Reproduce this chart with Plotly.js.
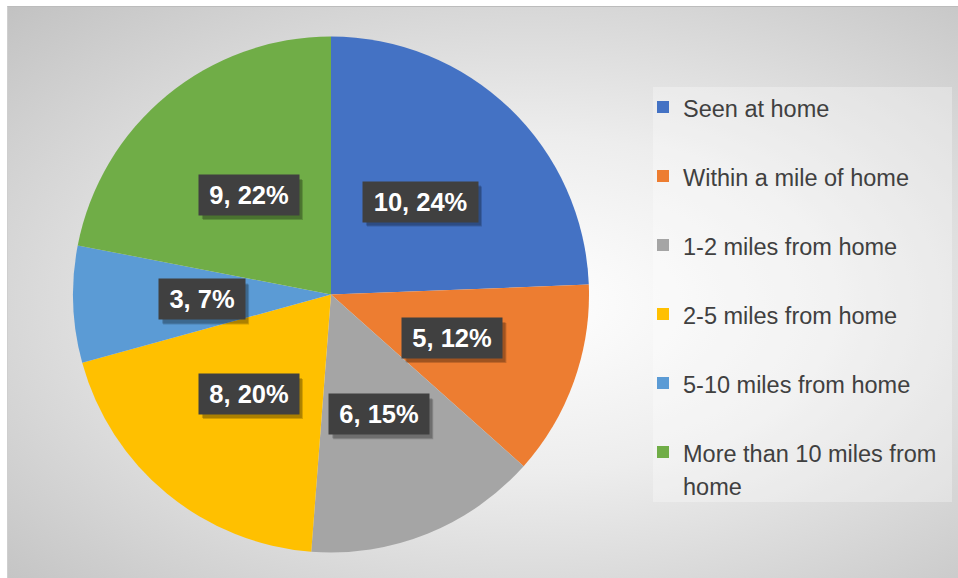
<!DOCTYPE html>
<html><head><meta charset="utf-8">
<script src="https://cdn.plot.ly/plotly-3.0.1.min.js"></script>
<style>
html,body{margin:0;padding:0;background:#fff;width:958px;height:578px;overflow:hidden}
#bg{position:absolute;left:7px;top:6px;width:951px;height:572px;border-top:1px solid #bcbcbc;border-left:1px solid #cfcfcf;
background:radial-gradient(farthest-corner at 55% 52%, #ffffff 0%, #ededed 40%, #c2c2c2 100%)}
#chart{position:absolute;left:0;top:0;width:958px;height:578px}
</style></head><body>
<div id="bg"></div><div id="chart"></div>
<script>
const categories = ["Seen at home", "Within a mile of home", "1-2 miles from home", "2-5 miles from home", "5-10 miles from home", "More than 10 miles from home"];
const counts = [10, 5, 6, 8, 3, 9];
const sliceColors = ["#4472C4", "#ED7D31", "#A5A5A5", "#FFC000", "#5B9BD5", "#70AD47"];

const W = 958, H = 578;
const domX = [73 / W, 589 / W];
const domY = [1 - 552.5 / H, 1 - 36.5 / H];
const FONT = "Arial, 'Liberation Sans', sans-serif";
const LABEL_SIZE = 25.5;

const total = counts.reduce((a, b) => a + b, 0);

// legend labels (wrapped, with spacing line)
function legendLabel(txt, i) {
  let lines = [txt];
  if (txt.length > 24) {
    const k = txt.lastIndexOf(' ');
    lines = [txt.slice(0, k), txt.slice(k + 1)];
  }
  let s = lines.map(l => '<span style="font-size:23.5px">' + l + '</span>').join('<br>');
  if (i < categories.length - 1) s += '<br> ';
  return s;
}
const legendLabels = categories.map(legendLabel);

// text measuring for label box widths
const ctx = document.createElement('canvas').getContext('2d');
ctx.font = 'bold ' + LABEL_SIZE + "px Arial, 'Liberation Sans', sans-serif";

// data label positions from pie geometry
const cx = (domX[0] + domX[1]) / 2 * W;
const cy = (1 - (domY[0] + domY[1]) / 2) * H;
const R = Math.min((domX[1] - domX[0]) * W, (domY[1] - domY[0]) * H) / 2;
const annotations = [];
const shapes = [{
  type: 'rect', xref: 'paper', yref: 'paper', layer: 'below',
  x0: 653 / W, x1: 952 / W, y0: 1 - 502 / H, y1: 1 - 87 / H,
  fillcolor: 'rgba(255,255,255,0.3)', line: {width: 0}
}];
let cum = 0;
counts.forEach((v, i) => {
  const mid = (cum + v / 2) / total * 2 * Math.PI;
  cum += v;
  const px = cx + 0.5 * R * Math.sin(mid);
  const py = cy - 0.5 * R * Math.cos(mid);
  const txt = v + ', ' + Math.round(v / total * 100) + '%';
  const bw = Math.round(ctx.measureText(txt).width + 17);
  const boxW = bw + 4, boxH = 40;
  // soft shadow
  [[4, 5, 0.18], [3, 4, 0.18]].forEach(([dx, dy, a]) => {
    shapes.push({
      type: 'rect', xref: 'paper', yref: 'paper', layer: 'above',
      x0: (px - boxW / 2 + dx) / W, x1: (px + boxW / 2 + dx) / W,
      y0: 1 - (py + boxH / 2 + dy) / H, y1: 1 - (py - boxH / 2 + dy) / H,
      fillcolor: 'rgba(0,0,0,' + a + ')', line: {width: 0}
    });
  });
  annotations.push({
    xref: 'paper', yref: 'paper', x: px / W, y: 1 - py / H,
    showarrow: false, text: txt, borderpad: 2, height: 36, width: bw,
    xanchor: 'center', yanchor: 'middle', align: 'center',
    font: {family: FONT, size: LABEL_SIZE, color: '#ffffff', weight: 'bold'},
    bgcolor: '#404040'
  });
});

const trace = {
  type: 'pie',
  labels: legendLabels,
  values: counts,
  marker: {colors: sliceColors, line: {width: 0}},
  sort: false,
  direction: 'clockwise',
  rotation: 0,
  textinfo: 'none',
  hoverinfo: 'none',
  domain: {x: domX, y: domY}
};

const layout = {
  width: W, height: H,
  margin: {l: 0, r: 0, t: 0, b: 0},
  paper_bgcolor: 'rgba(0,0,0,0)',
  plot_bgcolor: 'rgba(0,0,0,0)',
  showlegend: true,
  legend: {
    x: 643 / W, xanchor: 'left', y: 1 - 84 / H, yanchor: 'top',
    bgcolor: 'rgba(0,0,0,0)', borderwidth: 0,
    font: {family: FONT, size: 25.385, color: '#404040'},
    valign: 'top'
  },
  shapes: shapes,
  annotations: annotations
};

Plotly.newPlot('chart', [trace], layout, {displayModeBar: false, staticPlot: true});
</script>
</body></html>
